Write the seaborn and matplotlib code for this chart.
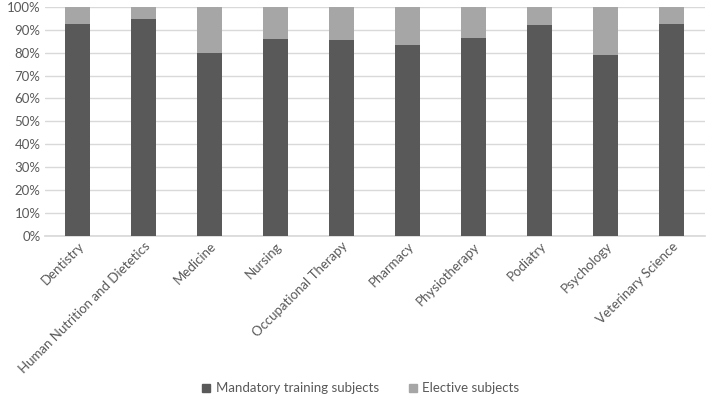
import numpy as np
import pandas as pd
import matplotlib
matplotlib.use("Agg")
import matplotlib.pyplot as plt
import seaborn as sns
from matplotlib.lines import Line2D

# Data (percent of subjects)
courses = ["Dentistry", "Human Nutrition and Dietetics", "Medicine", "Nursing",
           "Occupational Therapy", "Pharmacy", "Physiotherapy", "Podiatry",
           "Psychology", "Veterinary Science"]
mandatory = [92.4, 94.7, 79.7, 86.0, 85.5, 83.3, 86.5, 91.9, 79.2, 92.4]
elective = [7.6, 5.3, 20.3, 14.0, 14.5, 16.7, 13.5, 8.1, 20.8, 7.6]

df = pd.DataFrame({"course": courses, "mandatory": mandatory, "elective": elective})
df["total"] = df["mandatory"] + df["elective"]

dark = "#595959"
light = "#a6a6a6"
text_col = "#595959"

sns.set_theme(style="white")
plt.rcParams["font.family"] = ["Lato", "DejaVu Sans"]

fig, ax = plt.subplots(figsize=(7.09, 4.04), dpi=100)
fig.subplots_adjust(left=0.063, right=0.994, top=0.983, bottom=0.416)

sns.barplot(data=df, x="course", y="total", color=light, width=0.38,
            saturation=1, linewidth=0, ax=ax, zorder=2)
sns.barplot(data=df, x="course", y="mandatory", color=dark, width=0.38,
            saturation=1, linewidth=0, ax=ax, zorder=3)

ax.set_xlim(-0.5, len(courses) - 0.5)
ax.set_ylim(0, 100)
ax.set_yticks(np.arange(0, 101, 10))
ax.set_yticklabels([f"{v}%" for v in range(0, 101, 10)])
ax.yaxis.grid(True, color="#d9d9d9", linewidth=1, zorder=0)
ax.set_axisbelow(True)
for s in ["top", "right", "left"]:
    ax.spines[s].set_visible(False)
ax.spines["bottom"].set_color("#d9d9d9")
ax.set_xlabel("")
ax.set_ylabel("")
ax.tick_params(axis="both", colors=text_col, labelsize=9.5, length=0, pad=3)
plt.setp(ax.get_xticklabels(), rotation=45, ha="right", rotation_mode="anchor")

handles = [Line2D([], [], marker="s", linestyle="", color=dark, markersize=6),
           Line2D([], [], marker="s", linestyle="", color=light, markersize=6)]
fig.legend(handles, ["Mandatory training subjects", "Elective subjects"],
           loc="lower center", bbox_to_anchor=(0.508, -0.005), ncol=2, frameon=False,
           fontsize=9.5, labelcolor=text_col, handlelength=0.8, handletextpad=0.3,
           columnspacing=2.2)

fig.savefig("out.png", dpi=100)
